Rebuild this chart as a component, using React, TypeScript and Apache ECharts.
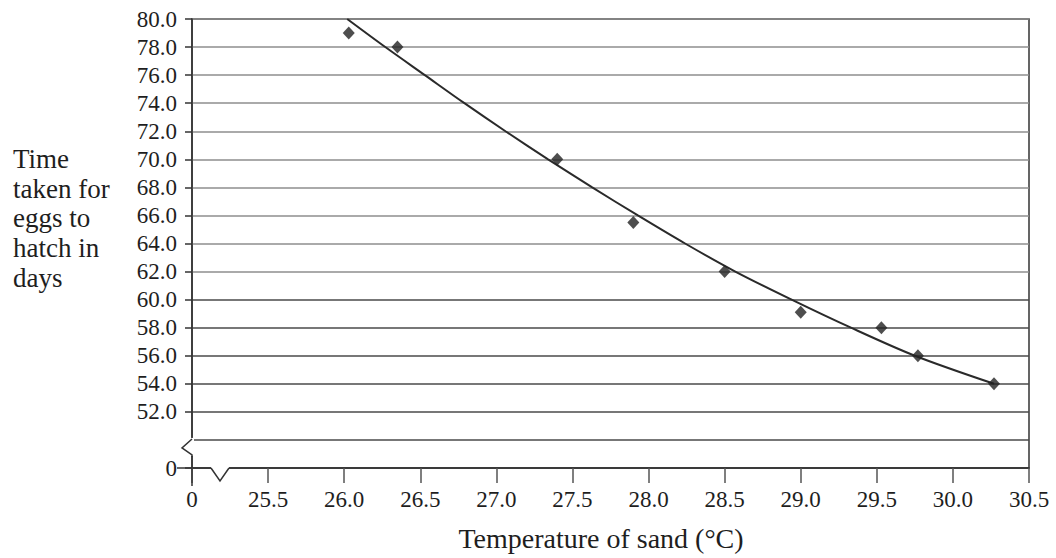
import React, { useEffect, useRef } from "react";
import * as echarts from "echarts";

// Measured points (temperature °C, days to hatch)
const temps = [26.03, 26.35, 27.4, 27.9, 28.5, 29.0, 29.53, 29.77, 30.27];
const days = [79.0, 78.0, 70.0, 65.5, 62.0, 59.1, 58.0, 56.0, 54.0];

// Hand-drawn line of best fit
const trendTemps = [26.02, 26.27, 26.53, 26.79, 27.06, 27.34, 27.63, 27.93, 28.24, 28.57, 28.94, 29.33, 29.75, 30.27];
const trendDays = [80, 78, 76, 74, 72, 70, 68, 66, 64, 62, 60, 58, 56, 54];

// Axis settings (the bottom value of each axis is shown as "0" across a break)
const xMin = 25.0;
const xMax = 30.5;
const xStep = 0.5;
const yMin = 48;
const yMax = 80;
const yStep = 2;
const yBreakValue = 50;

const xTitle = "Temperature of sand (°C)";
const yTitle = "Time\ntaken for\neggs to\nhatch in\ndays";

const FONT = "Liberation Serif";
const INK = "#1e1e1e";
const AXIS = "#333333";

export default function App() {
  const ref = useRef<HTMLDivElement>(null);

  useEffect(() => {
    if (!ref.current) return;
    const chart = echarts.init(ref.current, null, { renderer: "svg" });

    const lineColors: string[] = [];
    for (let v = yMin; v <= yMax; v += yStep) {
      lineColors.push(v <= 60 ? "#4a4a4a" : "#8e8e8e");
    }

    chart.setOption({
      animation: false,
      backgroundColor: "#ffffff",
      textStyle: { fontFamily: FONT },
      grid: {
        left: 192,
        right: 27,
        top: 19,
        bottom: 90,
        show: true,
        borderColor: AXIS,
        borderWidth: 1.5,
        backgroundColor: "transparent",
      },
      xAxis: {
        type: "value",
        min: xMin,
        max: xMax,
        interval: xStep,
        axisLine: { show: true, lineStyle: { color: AXIS, width: 1.5 } },
        axisTick: { show: true, length: 15, lineStyle: { color: "#555", width: 1.5 } },
        axisLabel: {
          margin: 20,
          color: INK,
          fontFamily: FONT,
          fontSize: 23,
          formatter: (v: number) => (Math.abs(v - xMin) < 1e-9 ? "0" : v.toFixed(1)),
        },
        splitLine: { show: false },
      },
      yAxis: {
        type: "value",
        min: yMin,
        max: yMax,
        interval: yStep,
        axisLine: { show: true, lineStyle: { color: AXIS, width: 1.5 } },
        axisTick: { show: true, length: 7, lineStyle: { color: AXIS, width: 1.5 } },
        axisLabel: {
          margin: 15,
          color: INK,
          fontFamily: FONT,
          fontSize: 23,
          formatter: (v: number) =>
            Math.abs(v - yMin) < 1e-9 ? "0" : Math.abs(v - yBreakValue) < 1e-9 ? "" : v.toFixed(1),
        },
        splitLine: { show: true, lineStyle: { color: lineColors, width: 1.6 } },
      },
      series: [
        {
          type: "line",
          data: trendTemps.map((t, i) => [t, trendDays[i]]),
          showSymbol: false,
          smooth: 0.3,
          lineStyle: { color: "#2a2a2a", width: 2 },
          z: 3,
        },
        {
          type: "scatter",
          data: temps.map((t, i) => [t, days[i]]),
          symbol: "diamond",
          symbolSize: [12, 13],
          itemStyle: { color: "#222222" },
          z: 4,
        },
      ],
    });

    const origin = chart.convertToPixel({ gridIndex: 0 }, [xMin, yMin]) as number[];
    const brk = chart.convertToPixel({ gridIndex: 0 }, [xMin, yBreakValue]) as number[];
    const ox = origin[0];
    const oy = origin[1];
    const yb = brk[1];

    chart.setOption({
      graphic: [
        // y-axis break
        {
          type: "rect",
          z: 100,
          shape: { x: ox - 10, y: yb - 2, width: 12, height: 18 },
          style: { fill: "#ffffff" },
        },
        {
          type: "polyline",
          z: 101,
          shape: { points: [[ox, yb - 1], [ox - 10, yb + 8], [ox, yb + 15], [ox, yb + 17]] },
          style: { stroke: AXIS, lineWidth: 1.5, fill: "none" },
        },
        // x-axis break
        {
          type: "rect",
          z: 100,
          shape: { x: ox + 19, y: oy - 3, width: 18, height: 6 },
          style: { fill: "#ffffff" },
        },
        {
          type: "polyline",
          z: 101,
          shape: { points: [[ox + 19, oy], [ox + 28, oy + 13], [ox + 37, oy]] },
          style: { stroke: AXIS, lineWidth: 1.5, fill: "none" },
        },
        // extended origin ticks
        {
          type: "line",
          z: 101,
          shape: { x1: ox, y1: oy, x2: ox, y2: oy + 18 },
          style: { stroke: AXIS, lineWidth: 1.5 },
        },
        {
          type: "line",
          z: 101,
          shape: { x1: ox - 15, y1: oy, x2: ox, y2: oy },
          style: { stroke: AXIS, lineWidth: 1.5 },
        },
        // axis titles
        {
          type: "text",
          z: 101,
          left: 13,
          top: 144,
          style: {
            text: yTitle,
            fontFamily: FONT,
            fontSize: 27,
            fill: INK,
            lineHeight: 29.7,
            align: "left",
          },
        },
        {
          type: "text",
          z: 101,
          x: 601,
          y: 538,
          style: {
            text: xTitle,
            fontFamily: FONT,
            fontSize: 28,
            fill: INK,
            align: "center",
            verticalAlign: "middle",
          },
        },
      ],
    });

    return () => chart.dispose();
  }, []);

  return (
    <div
      ref={ref}
      style={{ position: "fixed", left: 0, top: 0, width: 1056, height: 558, background: "#fff" }}
    />
  );
}
